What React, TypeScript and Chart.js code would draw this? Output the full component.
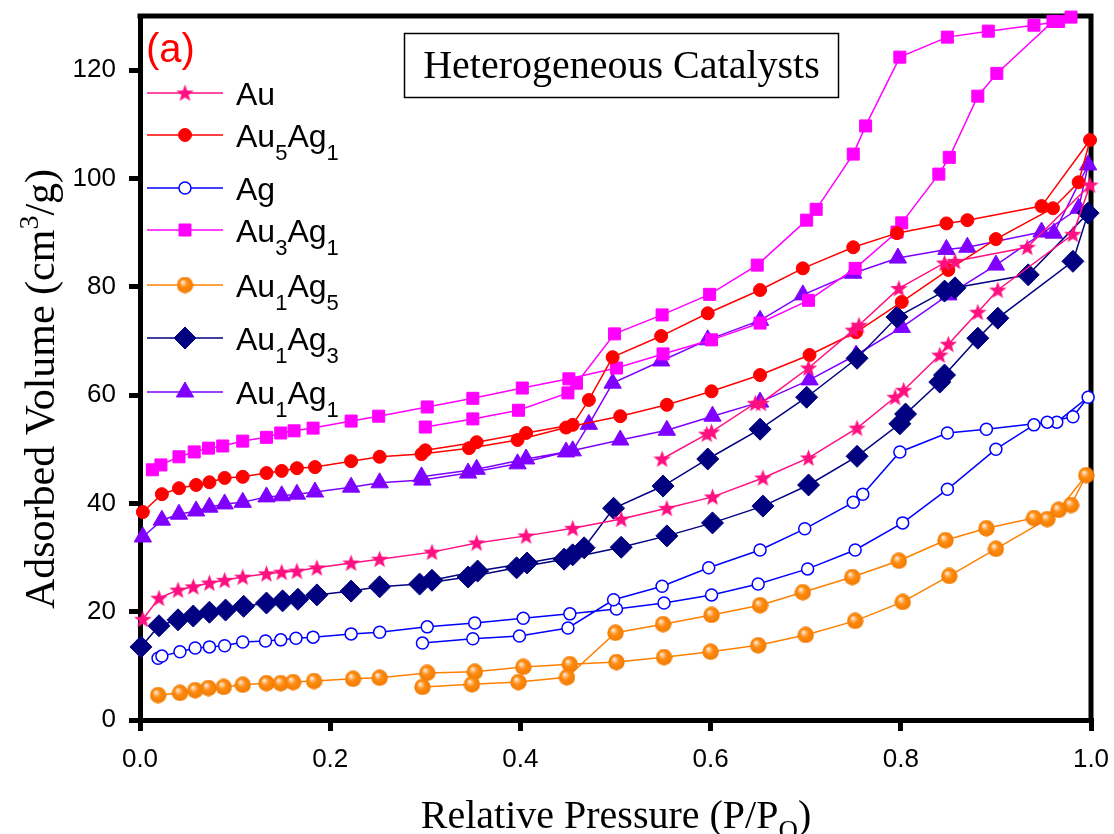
import React, { useEffect, useRef } from 'react';
import { Chart, registerables } from 'chart.js';
import { drawPoint } from 'chart.js/helpers';
Chart.register(...registerables);

// ---- tick labels ----
const xTicks = [0, 0.2, 0.4, 0.6, 0.8, 1.0];
const yTicks = [0, 20, 40, 60, 80, 100, 120];

// ---- series (adsorption then desorption, in drawing order) ----
const auX = [0.003,0.020,0.040,0.056,0.073,0.089,0.108,0.133,0.149,0.165,0.186,0.222,0.252,0.307,0.354,0.406,0.455,0.506,0.554,0.602,0.655,0.703,0.754,0.794,0.803,0.841,0.850,0.881,0.902,0.981,0.999,0.933,0.857,0.846,0.798,0.756,0.750,0.703,0.653,0.647,0.601,0.596,0.549];
const auY = [18.6,22.5,24.0,24.6,25.3,25.8,26.4,27.0,27.3,27.5,28.1,29.0,29.7,31.0,32.7,34.0,35.4,37.1,39.1,41.2,44.7,48.4,53.9,59.6,60.9,67.4,69.4,75.3,79.4,89.7,98.8,87.3,84.7,84.4,79.7,72.9,72.0,65.0,58.5,58.5,53.2,52.8,48.2];

const au5ag1X = [0.003,0.023,0.041,0.059,0.073,0.089,0.108,0.133,0.149,0.165,0.184,0.222,0.252,0.296,0.346,0.397,0.448,0.505,0.554,0.601,0.652,0.704,0.753,0.801,0.850,0.900,0.960,0.987,0.999,0.948,0.870,0.848,0.796,0.750,0.697,0.652,0.597,0.548,0.497,0.472,0.455,0.406,0.354,0.300];
const au5ag1Y = [38.4,41.7,42.8,43.4,43.9,44.7,44.9,45.6,46.0,46.5,46.7,47.8,48.6,49.1,50.2,51.7,54.0,56.1,58.2,60.7,63.7,67.4,71.6,77.2,83.1,88.8,94.5,99.3,107.1,94.9,92.3,91.7,89.9,87.3,83.4,79.4,75.1,70.9,67.0,59.1,54.5,53.0,51.3,49.8];

const agX = [0.019,0.023,0.042,0.058,0.073,0.089,0.108,0.132,0.148,0.164,0.182,0.222,0.252,0.302,0.352,0.403,0.452,0.501,0.551,0.601,0.650,0.702,0.752,0.802,0.849,0.900,0.940,0.981,0.997,0.964,0.954,0.890,0.849,0.799,0.760,0.750,0.699,0.652,0.598,0.549,0.498,0.450,0.399,0.350,0.297];
const agY = [11.4,11.8,12.6,13.3,13.5,13.7,14.4,14.6,14.8,15.1,15.3,15.9,16.2,17.2,17.9,18.8,19.6,20.5,21.6,23.1,25.1,27.9,31.4,36.4,42.6,50.0,54.5,56.0,59.6,55.0,55.0,53.7,53.0,49.5,41.7,40.2,35.3,31.4,28.1,24.7,22.2,17.0,15.5,15.0,14.2];

const au3ag1X = [0.013,0.022,0.041,0.057,0.072,0.087,0.108,0.133,0.148,0.162,0.182,0.222,0.251,0.302,0.350,0.402,0.451,0.501,0.550,0.601,0.652,0.703,0.752,0.796,0.801,0.840,0.851,0.881,0.901,0.960,0.979,0.966,0.940,0.892,0.849,0.799,0.763,0.750,0.711,0.701,0.649,0.599,0.549,0.499,0.459,0.450,0.398,0.350,0.300];
const au3ag1Y = [46.2,47.1,48.6,49.5,50.2,50.6,51.5,52.2,53.0,53.4,53.9,55.2,56.1,57.8,59.4,61.3,63.0,65.0,67.6,70.2,73.3,77.5,83.4,90.1,91.8,100.8,103.9,115.2,119.4,129.0,129.8,129.0,128.3,127.2,126.1,122.4,109.7,104.5,94.3,92.3,84.0,78.6,74.8,71.3,62.2,60.4,57.2,55.6,54.1];

const au1ag5X = [0.019,0.042,0.058,0.072,0.088,0.108,0.133,0.148,0.161,0.183,0.224,0.252,0.302,0.352,0.403,0.452,0.501,0.551,0.600,0.650,0.700,0.752,0.802,0.851,0.900,0.954,0.979,0.995,0.966,0.940,0.890,0.847,0.798,0.749,0.697,0.652,0.601,0.550,0.500,0.449,0.398,0.349,0.297];
const au1ag5Y = [4.6,5.0,5.5,5.9,6.1,6.5,6.8,6.8,7.0,7.2,7.6,7.8,8.7,8.9,9.8,10.3,10.7,11.6,12.6,13.8,15.7,18.3,21.8,26.6,31.6,37.1,39.7,45.2,38.8,37.3,35.4,33.2,29.4,26.4,23.6,21.2,19.4,17.7,16.1,7.9,7.0,6.6,6.1];

const au1ag3X = [0.001,0.020,0.040,0.056,0.073,0.090,0.109,0.133,0.150,0.166,0.186,0.222,0.252,0.294,0.345,0.396,0.446,0.506,0.554,0.602,0.655,0.703,0.754,0.799,0.805,0.841,0.846,0.881,0.902,0.981,0.997,0.934,0.857,0.846,0.796,0.754,0.701,0.652,0.597,0.550,0.498,0.467,0.455,0.407,0.355,0.307];
const au1ag3Y = [13.5,17.4,18.5,19.2,19.9,20.3,21.0,21.6,22.0,22.3,23.1,23.8,24.6,25.1,26.4,28.1,29.7,31.9,34.0,36.4,39.5,43.4,48.7,54.7,56.5,62.4,63.7,70.5,74.2,84.7,93.6,82.2,79.8,79.2,74.4,66.8,59.6,53.7,48.2,43.2,39.1,31.8,30.5,29.0,27.5,25.8];

const au1ag1X = [0.003,0.023,0.041,0.059,0.073,0.089,0.108,0.133,0.149,0.165,0.184,0.222,0.252,0.297,0.345,0.397,0.448,0.505,0.554,0.602,0.652,0.704,0.753,0.801,0.850,0.900,0.987,0.997,0.961,0.948,0.870,0.848,0.797,0.750,0.697,0.652,0.597,0.548,0.497,0.472,0.455,0.406,0.354,0.296];
const au1ag1Y = [33.8,36.9,38.0,38.6,39.3,39.9,40.2,41.2,41.4,41.7,42.1,43.0,43.8,44.3,45.6,47.3,49.5,51.7,53.5,56.1,58.7,62.8,67.4,72.5,78.5,84.0,94.5,102.5,89.9,90.1,87.3,86.9,85.3,82.5,78.5,73.8,70.2,66.3,62.2,54.6,49.7,48.2,46.3,44.9];

// legend labels: [text, 0 normal | 1 subscript]
const legendLabels: [string, number][][] = [
  [['Au', 0]],
  [['Au', 0], ['5', 1], ['Ag', 0], ['1', 1]],
  [['Ag', 0]],
  [['Au', 0], ['3', 1], ['Ag', 0], ['1', 1]],
  [['Au', 0], ['1', 1], ['Ag', 0], ['5', 1]],
  [['Au', 0], ['1', 1], ['Ag', 0], ['3', 1]],
  [['Au', 0], ['1', 1], ['Ag', 0], ['1', 1]],
];
const legendRowY = [93, 135, 188, 230, 285, 338, 392];

const SANS = "'Liberation Sans', Arial, sans-serif";
const SERIF = "'Liberation Serif', 'Times New Roman', serif";

function pts(xs: number[], ys: number[]) {
  return xs.map((x, i) => ({ x, y: ys[i] }));
}

function makeStar(color: string) {
  const c = document.createElement('canvas');
  c.width = 19; c.height = 19;
  const g = c.getContext('2d')!;
  g.fillStyle = color;
  g.beginPath();
  const R = 9.2, r = 3.8, cx = 9.5, cy = 10.1;
  for (let i = 0; i < 10; i++) {
    const a = -Math.PI / 2 + (i * Math.PI) / 5;
    const rr = i % 2 === 0 ? R : r;
    const px = cx + rr * Math.cos(a), py = cy + rr * Math.sin(a);
    if (i === 0) g.moveTo(px, py); else g.lineTo(px, py);
  }
  g.closePath();
  g.fill();
  return c;
}

function makeSphere() {
  const c = document.createElement('canvas');
  c.width = 17; c.height = 17;
  const g = c.getContext('2d')!;
  const grad = g.createRadialGradient(6, 5.5, 0.3, 8.5, 8.5, 8.5);
  grad.addColorStop(0, '#fff6ee');
  grad.addColorStop(0.18, '#ffc48a');
  grad.addColorStop(0.45, '#ff8c10');
  grad.addColorStop(1, '#f07a00');
  g.fillStyle = grad;
  g.beginPath();
  g.arc(8.5, 8.5, 8.2, 0, Math.PI * 2);
  g.fill();
  return c;
}

function richWidth(ctx: CanvasRenderingContext2D, parts: [string, number][], main: string, small: string) {
  let w = 0;
  for (const [t, k] of parts) {
    ctx.font = k === 0 ? main : small;
    w += ctx.measureText(t).width;
  }
  return w;
}

function drawRich(ctx: CanvasRenderingContext2D, parts: [string, number][], x: number, y: number, main: string, small: string, subDy: number, supDy: number) {
  let cx = x;
  for (const [t, k] of parts) {
    ctx.font = k === 0 ? main : small;
    const dy = k === 1 ? subDy : k === 2 ? supDy : 0;
    ctx.fillText(t, cx, y + dy);
    cx += ctx.measureText(t).width;
  }
}

export default function App() {
  const ref = useRef<HTMLCanvasElement>(null);

  useEffect(() => {
    document.body.style.margin = '0';
    document.body.style.overflow = 'hidden';
    const starImg = makeStar('#ff1080');
    const sphereImg = makeSphere();

    const styles = [
      { color: '#ff1080', fill: '#ff1080', pointStyle: starImg as any, radius: 8, bw: 0 },
      { color: '#ff0000', fill: '#ff0000', pointStyle: 'circle', radius: 6.5, bw: 1 },
      { color: '#0000ff', fill: '#ffffff', pointStyle: 'circle', radius: 6, bw: 1.5 },
      { color: '#ff00ff', fill: '#ff00ff', pointStyle: 'rect', radius: 8.5, bw: 1 },
      { color: '#ff8000', fill: '#ff8000', pointStyle: sphereImg as any, radius: 8, bw: 0 },
      { color: '#000080', fill: '#000080', pointStyle: 'rectRot', radius: 11, bw: 1 },
      { color: '#8000ff', fill: '#8000ff', pointStyle: 'triangle', radius: 10, bw: 1 },
    ];
    const series = [
      pts(auX, auY),
      pts(au5ag1X, au5ag1Y),
      pts(agX, agY),
      pts(au3ag1X, au3ag1Y),
      pts(au1ag5X, au1ag5Y),
      pts(au1ag3X, au1ag3Y),
      pts(au1ag1X, au1ag1Y),
    ];
    const names = ['Au', 'Au5Ag1', 'Ag', 'Au3Ag1', 'Au1Ag5', 'Au1Ag3', 'Au1Ag1'];

    const datasets = series.map((d, i) => ({
      label: names[i],
      data: d,
      showLine: true,
      borderColor: styles[i].color,
      borderWidth: 1.5,
      backgroundColor: styles[i].fill,
      pointStyle: styles[i].pointStyle,
      pointRadius: styles[i].radius,
      pointBackgroundColor: styles[i].fill,
      pointBorderColor: styles[i].color,
      pointBorderWidth: styles[i].bw,
      tension: 0,
      clip: false as any,
    }));

    const deco = {
      id: 'deco',
      beforeDatasetsDraw(chart: any) {
        const { ctx, chartArea: a } = chart;
        ctx.save();
        ctx.strokeStyle = '#000';
        ctx.lineWidth = 5;
        ctx.beginPath();
        ctx.moveTo(a.left - 2.5, a.top);
        ctx.lineTo(a.right + 2.5, a.top);
        ctx.moveTo(a.right, a.top);
        ctx.lineTo(a.right, a.bottom + 2.5);
        ctx.stroke();
        ctx.restore();
      },
      afterDraw(chart: any) {
        const { ctx } = chart;
        ctx.save();
        ctx.textBaseline = 'alphabetic';
        ctx.textAlign = 'left';

        // (a)
        ctx.fillStyle = '#ff0000';
        ctx.font = `40px ${SANS}`;
        ctx.fillText('(a)', 146, 62);

        // legend
        legendLabels.forEach((parts, i) => {
          const y = legendRowY[i];
          const s = styles[i];
          ctx.strokeStyle = s.color;
          ctx.lineWidth = 1.5;
          ctx.beginPath();
          ctx.moveTo(147, y);
          ctx.lineTo(223, y);
          ctx.stroke();
          ctx.fillStyle = s.fill;
          ctx.strokeStyle = s.color;
          ctx.lineWidth = s.bw;
          drawPoint(ctx, { pointStyle: s.pointStyle, rotation: 0, radius: s.radius, borderWidth: s.bw } as any, 185, y);
          ctx.fillStyle = '#000';
          drawRich(ctx, parts, 236, y + 12, `32px ${SANS}`, `22px ${SANS}`, 13, 0);
        });

        // title box
        ctx.strokeStyle = '#000';
        ctx.lineWidth = 1.5;
        ctx.strokeRect(404.5, 33.5, 434, 64);
        ctx.fillStyle = '#000';
        ctx.font = `40px ${SERIF}`;
        ctx.textAlign = 'center';
        ctx.fillText('Heterogeneous Catalysts', 621.5, 78);
        ctx.textAlign = 'left';

        // x title
        const xParts: [string, number][] = [['Relative Pressure (P/P', 0], ['O', 1], [')', 0]];
        const xm = `40px ${SERIF}`, xs = `27px ${SERIF}`;
        const xw = richWidth(ctx, xParts, xm, xs);
        drawRich(ctx, xParts, 616 - xw / 2, 828, xm, xs, 11, 0);

        // y title
        const yParts: [string, number][] = [['Adsorbed Volume (cm', 0], ['3', 2], ['/g)', 0]];
        const ym = `42px ${SERIF}`, ys = `28px ${SERIF}`;
        const yw = richWidth(ctx, yParts, ym, ys);
        ctx.translate(54, 389);
        ctx.rotate(-Math.PI / 2);
        drawRich(ctx, yParts, -yw / 2, 0, ym, ys, 0, -16);
        ctx.restore();
      },
    };

    const chart = new Chart(ref.current!, {
      type: 'scatter',
      data: { datasets: datasets as any },
      options: {
        animation: false,
        responsive: false,
        devicePixelRatio: 1,
        layout: { padding: { left: 0, right: 23, top: 16, bottom: 0 } },
        plugins: {
          legend: { display: false },
          tooltip: { enabled: false },
        },
        scales: {
          x: {
            type: 'linear',
            min: 0,
            max: 1,
            afterBuildTicks: (s: any) => { s.ticks = xTicks.map((v) => ({ value: v })); },
            afterFit: (s: any) => { s.height = 114; s.paddingLeft = 0; s.paddingRight = 0; },
            ticks: {
              color: '#000',
              font: { family: SANS, size: 26 },
              padding: 13,
              maxRotation: 0,
              callback: (v: any) => Number(v).toFixed(1),
            },
            grid: { display: true, drawOnChartArea: false, drawTicks: true, tickLength: 11, lineWidth: 5, color: '#000' },
            border: { display: true, width: 5, color: '#000' },
          },
          y: {
            type: 'linear',
            min: 0,
            max: 130,
            afterBuildTicks: (s: any) => { s.ticks = yTicks.map((v) => ({ value: v })); },
            afterFit: (s: any) => { s.width = 140; s.paddingTop = 0; s.paddingBottom = 0; },
            ticks: {
              color: '#000',
              font: { family: SANS, size: 26 },
              padding: 13,
              callback: (v: any) => String(v),
            },
            grid: { display: true, drawOnChartArea: false, drawTicks: true, tickLength: 11, lineWidth: 5, color: '#000' },
            border: { display: true, width: 5, color: '#000' },
          },
        },
      },
      plugins: [deco],
    });
    return () => chart.destroy();
  }, []);

  return <canvas ref={ref} width={1114} height={834} style={{ display: 'block', width: '1114px', height: '834px' }} />;
}
